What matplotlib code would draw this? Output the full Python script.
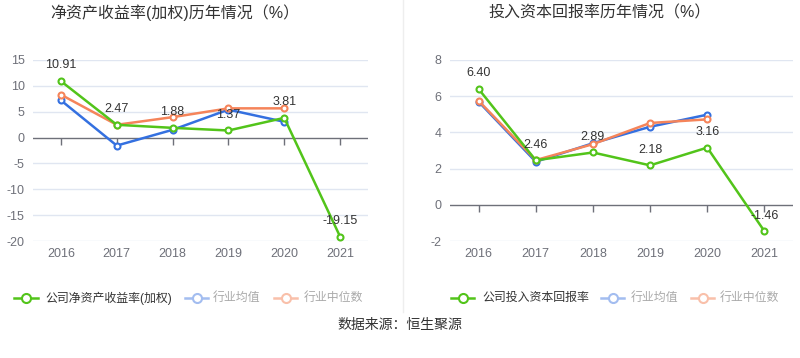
import matplotlib
matplotlib.use("Agg")
import matplotlib.pyplot as plt
import matplotlib.markers as mmarkers
from matplotlib.lines import Line2D

plt.rcParams['font.family'] = ['Liberation Sans', 'Noto Sans CJK SC', 'DejaVu Sans']

years = ['2016', '2017', '2018', '2019', '2020', '2021']

roe_company = [10.91, 2.47, 1.88, 1.37, 3.81, -19.15]
roe_mean = [7.2, -1.55, 1.5, 5.4, 3.05]
roe_median = [8.3, 2.47, 3.95, 5.65, 5.65]

roic_company = [6.40, 2.46, 2.89, 2.18, 3.16, -1.46]
roic_mean = [5.7, 2.38, 3.4, 4.31, 4.98]
roic_median = [5.75, 2.47, 3.35, 4.52, 4.72]

left_ticks = [15, 10, 5, 0, -5, -10, -15, -20]
right_ticks = [8, 6, 4, 2, 0, -2]

GREEN = '#52c41a'
BLUE = '#3470e0'
ORANGE = '#f5845a'
GRID = '#e0e6f1'
AXIS = '#6e7079'
TEXT = '#333333'

W, H = 800, 358
fig = plt.figure(figsize=(W / 100, H / 100), dpi=100)


def px_rect(x0, y0, x1, y1):
    return [x0 / W, 1 - y1 / H, (x1 - x0) / W, (y1 - y0) / H]


def draw_panel(rect, company, mean, median, ticks, title, title_x):
    ax = fig.add_axes(rect)
    xs = list(range(len(years)))
    ax.set_xlim(-0.5, len(years) - 0.5)
    ax.set_ylim(min(ticks), max(ticks))
    ax.set_yticks(ticks)
    ax.set_yticklabels([str(t) for t in ticks])
    ax.set_xticks(xs)
    ax.set_xticklabels(years)
    for s in ax.spines.values():
        s.set_visible(False)
    ax.tick_params(axis='both', length=0, labelsize=9, colors=AXIS, pad=6)
    ax.tick_params(axis='x', pad=5)
    for t in ticks:
        if t != 0:
            ax.axhline(t, color=GRID, lw=1, zorder=0)
    ax.axhline(0, color=AXIS, lw=1, zorder=1)
    ax.plot(xs, [0] * len(xs), linestyle='none', marker=mmarkers.TICKDOWN,
            markersize=5, color=AXIS, mew=1, zorder=1)
    mk = dict(marker='o', markersize=4.3, markerfacecolor='white', mew=1.5, lw=1.8)
    ax.plot(xs[:len(mean)], mean, color=BLUE, zorder=3, **mk)
    ax.plot(xs[:len(median)], median, color=ORANGE, zorder=4, **mk)
    ax.plot(xs, company, color=GREEN, zorder=5, **mk)
    for x, v in zip(xs, company):
        ax.annotate(f'{v:.2f}', (x, v), xytext=(0, 7), textcoords='offset points',
                    ha='center', va='bottom', fontsize=9, color=TEXT, zorder=6)
    fig.text(title_x / W, 1 - 13 / H, title, ha='center', va='center',
             fontsize=11.5, color=TEXT)
    return ax


draw_panel(px_rect(33, 60, 368, 241), roe_company, roe_mean, roe_median,
           left_ticks, '净资产收益率(加权)历年情况（%）', 175)
draw_panel(px_rect(450, 60, 793, 241), roic_company, roic_mean, roic_median,
           right_ticks, '投入资本回报率历年情况（%）', 600)

# divider
fig.add_artist(Line2D([403 / W, 403 / W], [1, 1 - 312 / H], color='#eeeeee', lw=1))


def legend_item(x0, x1, y, color, label, text_color, text_x):
    yf = 1 - y / H
    fig.add_artist(Line2D([x0 / W, x1 / W], [yf, yf], color=color, lw=1.8))
    fig.add_artist(Line2D([(x0 + x1) / 2 / W], [yf], marker='o', markersize=6.5,
                          markerfacecolor='white', markeredgecolor=color, mew=1.5))
    fig.text(text_x / W, yf, label, ha='left', va='center', fontsize=8.6, color=text_color)


LY = 298
legend_item(14, 38, LY, GREEN, '公司净资产收益率(加权)', TEXT, 45)
legend_item(185, 208, LY, '#a3bdf0', '行业均值', '#aaaaaa', 213)
legend_item(274, 297, LY, '#f9c0aa', '行业中位数', '#aaaaaa', 304)
legend_item(451, 474, LY, GREEN, '公司投入资本回报率', TEXT, 482)
legend_item(601, 624, LY, '#a3bdf0', '行业均值', '#aaaaaa', 631)
legend_item(691, 714, LY, '#f9c0aa', '行业中位数', '#aaaaaa', 720)

fig.text(400 / W, 1 - 325 / H, '数据来源：恒生聚源', ha='center', va='center',
         fontsize=10, color=TEXT)

fig.savefig('out.png', dpi=100, facecolor='white')
